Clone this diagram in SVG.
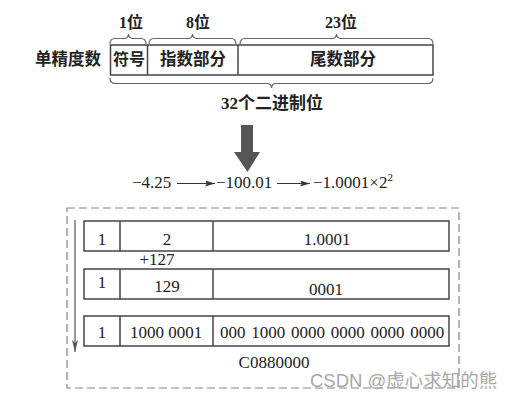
<svg xmlns="http://www.w3.org/2000/svg" width="514" height="400" viewBox="0 0 514 400">
<defs>
<marker id="ah" viewBox="0 0 10 6" refX="10" refY="3" markerWidth="10" markerHeight="6" markerUnits="userSpaceOnUse" orient="auto">
<path d="M0,0 L10,3 L0,6 L2,3 Z" fill="#333"/>
</marker>
<marker id="ahv" viewBox="0 0 6 12" refX="3" refY="12" markerWidth="6" markerHeight="12" markerUnits="userSpaceOnUse" orient="0">
<path d="M0,0 L3,12 L6,0 L3,3 Z" fill="#555"/>
</marker>
</defs>
<style>
.t{font-family:"Liberation Serif","Noto Sans CJK SC",serif;fill:#222;}
.b{font-weight:bold;}
.box{fill:none;stroke:#444;stroke-width:1.5;}
.brace{fill:none;stroke:#666;stroke-width:1.2;}
.ln{stroke:#333;stroke-width:1.2;fill:none;}
</style>
<rect width="514" height="400" fill="#fff"/>

<g id="header">
<text class="t b" x="35" y="65" font-size="16.5">单精度数</text>
<text class="t b" x="131" y="28" font-size="16" text-anchor="middle">1位</text>
<text class="t b" x="198" y="28" font-size="16" text-anchor="middle">8位</text>
<text class="t b" x="341" y="28" font-size="16" text-anchor="middle">23位</text>
</g>

<g id="format-box">
<rect class="box" x="110.5" y="45" width="322.5" height="30"/>
<line class="box" x1="147.5" y1="45" x2="147.5" y2="75"/>
<line class="box" x1="238" y1="45" x2="238" y2="75"/>
<text class="t b" x="129" y="65" font-size="16" text-anchor="middle">符号</text>
<text class="t b" x="193" y="65" font-size="16.5" text-anchor="middle">指数部分</text>
<text class="t b" x="343" y="65" font-size="16.5" text-anchor="middle">尾数部分</text>
</g>

<g id="braces">
<path class="brace" d="M110,44 Q110,38.5 115,38.5 L124,38.5 Q128,38.5 128.5,34 Q129,38.5 133,38.5 L141,38.5 Q146,38.5 146,44"/>
<path class="brace" d="M149,44 Q149,38.5 154,38.5 L188,38.5 Q192,38.5 192.5,34 Q193,38.5 197,38.5 L231,38.5 Q236,38.5 236,44"/>
<path class="brace" d="M240,44 Q240,38.5 245,38.5 L332,38.5 Q336,38.5 336.5,34 Q337,38.5 341,38.5 L428,38.5 Q433,38.5 433,44"/>
<path class="brace" d="M110,78 Q110,83.5 115,83.5 L267,83.5 Q271,83.5 271.5,88 Q272,83.5 276,83.5 L428,83.5 Q433,83.5 433,78"/>
<text class="t b" x="272" y="109" font-size="17" text-anchor="middle">32个二进制位</text>
</g>

<g id="big-arrow">
<path d="M241,125 L253,125 L253,152 L260,152 L247.5,172 L234,152 L241,152 Z" fill="#555"/>
</g>

<g id="conversion">
<text class="t" x="132" y="188" font-size="17">−4.25</text>
<text class="t" x="216" y="188" font-size="17">−100.01</text>
<text class="t" x="313" y="188" font-size="17">−1.0001×2<tspan dy="-7" font-size="11">2</tspan></text>
</g>

<g id="connectors">
<line class="ln" x1="177" y1="183.5" x2="215" y2="183.5" marker-end="url(#ah)"/>
<line class="ln" x1="277" y1="183.5" x2="310" y2="183.5" marker-end="url(#ah)"/>
<line x1="75" y1="220" x2="75" y2="352" stroke="#555" stroke-width="1.2" marker-end="url(#ahv)"/>
</g>

<g id="panel">
<rect x="67" y="208" width="392" height="180" fill="none" stroke="#888" stroke-width="1.2" stroke-dasharray="8,4"/>
</g>

<g id="row1">
<rect class="box" x="84" y="221" width="365" height="30"/>
<line class="box" x1="120" y1="221" x2="120" y2="251"/>
<line class="box" x1="213" y1="221" x2="213" y2="251"/>
<text class="t" x="102" y="245" font-size="17" text-anchor="middle">1</text>
<text class="t" x="167" y="245" font-size="17" text-anchor="middle">2</text>
<text class="t" x="327" y="245" font-size="17" text-anchor="middle">1.0001</text>
</g>

<g id="bias">
<text class="t" x="157" y="265" font-size="17" text-anchor="middle">+127</text>
</g>

<g id="row2">
<rect class="box" x="84" y="269" width="365" height="30"/>
<line class="box" x1="120" y1="269" x2="120" y2="299"/>
<line class="box" x1="213" y1="269" x2="213" y2="299"/>
<text class="t" x="102" y="288" font-size="17" text-anchor="middle">1</text>
<text class="t" x="167" y="292" font-size="17" text-anchor="middle">129</text>
<text class="t" x="326" y="295" font-size="17" text-anchor="middle">0001</text>
</g>

<g id="row3">
<rect class="box" x="84" y="316" width="365" height="30"/>
<line class="box" x1="120" y1="316" x2="120" y2="346"/>
<line class="box" x1="213" y1="316" x2="213" y2="346"/>
<text class="t" x="102" y="338" font-size="17" text-anchor="middle">1</text>
<text class="t" x="166" y="338" font-size="17" text-anchor="middle">1000 0001</text>
<text class="t" x="332" y="338" font-size="17" text-anchor="middle" word-spacing="1.5">000 1000 0000 0000 0000 0000</text>
</g>

<g id="result">
<text class="t" x="274" y="368" font-size="17" text-anchor="middle">C0880000</text>
</g>

<text x="310" y="387" font-size="18.5" font-family="'Liberation Sans','Noto Sans CJK SC',sans-serif" fill="#a8a8a8">CSDN @虚心求知的熊</text>
</svg>
